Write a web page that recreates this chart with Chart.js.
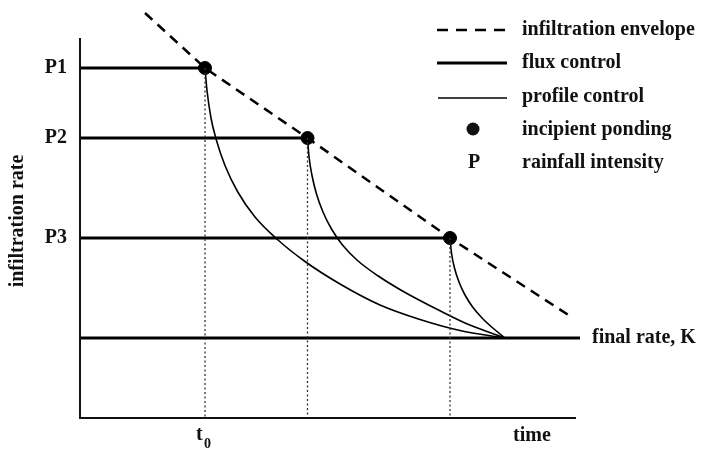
<!DOCTYPE html>
<html>
<head>
<meta charset="utf-8">
<script src="https://cdn.jsdelivr.net/npm/chart.js@4"></script>
<style>
  html, body { margin: 0; padding: 0; background: #fff; }
  canvas { display: block; }
</style>
</head>
<body>
<canvas id="grafico" width="704" height="450"></canvas>
<script>
// rainfall intensities and the time ponding starts for each
const rainLabels = ['P1', 'P2', 'P3'];
const rainRate = [70, 56, 36];
const pondTime = [25, 45.5, 74];
const finalRate = 16;

// infiltration envelope (dashed)
const envelopeT = [13, 25, 45.5, 74, 98.6];
const envelopeF = [81, 70, 56, 36, 20];

// profile-controlled decay after ponding, one curve per intensity
const profile1T = [25, 25.4, 26.2, 27.3, 29, 31.5, 35, 39.6, 45, 52, 60, 68, 76, 85];
const profile1F = [70, 65.5, 60, 55.5, 50.5, 45.3, 40.2, 35.6, 31.3, 26.8, 22.6, 19.7, 17.5, 16];
const profile2T = [45.5, 45.8, 46.4, 47.3, 48.6, 50.3, 52.5, 55.5, 59.5, 64.5, 70.5, 77, 85];
const profile2F = [56, 52.3, 48.5, 44.8, 41.2, 37.8, 34.6, 31.5, 28.5, 25.4, 22.2, 19.0, 16];
const profile3T = [74, 74.3, 74.9, 75.8, 77, 78.6, 80.6, 82.8, 85];
const profile3F = [36, 33, 30, 27.2, 24.6, 22.1, 19.8, 17.8, 16];

// axis extents
const axisTop = 76;
const axisEnd = 99.2;

const serif = "'Liberation Serif', 'Times New Roman', serif";

function pts(xs, ys) {
  return xs.map((x, i) => ({ x: x, y: ys[i] }));
}

const datasets = [];

// axes
datasets.push({
  data: [{ x: 0, y: axisTop }, { x: 0, y: 0 }, { x: axisEnd, y: 0 }],
  borderColor: '#111', borderWidth: 2, pointRadius: 0, borderJoinStyle: 'miter'
});

// dotted drop lines from each ponding point
pondTime.forEach((t, i) => {
  datasets.push({
    data: [{ x: t, y: rainRate[i] }, { x: t, y: 0 }],
    borderColor: '#333', borderWidth: 1.3, borderDash: [2, 2.5], pointRadius: 0
  });
});

// flux control: constant rainfall until ponding
pondTime.forEach((t, i) => {
  datasets.push({
    data: [{ x: 0, y: rainRate[i] }, { x: t, y: rainRate[i] }],
    borderColor: '#000', borderWidth: 3, pointRadius: 0
  });
});

// final rate K
datasets.push({
  data: [{ x: 0, y: finalRate }, { x: 100, y: finalRate }],
  borderColor: '#000', borderWidth: 3, pointRadius: 0
});

// infiltration envelope
datasets.push({
  data: pts(envelopeT, envelopeF),
  borderColor: '#000', borderWidth: 2.5, borderDash: [10, 7], pointRadius: 0
});

// profile control curves
[[profile1T, profile1F], [profile2T, profile2F], [profile3T, profile3F]].forEach(c => {
  datasets.push({
    data: pts(c[0], c[1]),
    borderColor: '#000', borderWidth: 1.6, pointRadius: 0,
    cubicInterpolationMode: 'monotone'
  });
});

// incipient ponding points
datasets.push({
  data: pts(pondTime, rainRate),
  showLine: false, pointRadius: 6.5, pointBackgroundColor: '#000', pointBorderColor: '#000'
});

datasets.forEach(d => { d.clip = false; d.fill = false; });

// labels, legend and axis titles
const textPlugin = {
  id: 'textos',
  afterDatasetsDraw(chart) {
    const c = chart.ctx;
    const y = chart.scales.y;
    c.save();
    c.fillStyle = '#111';
    c.textBaseline = 'middle';

    c.font = 'bold 20px ' + serif;
    c.textAlign = 'right';
    rainLabels.forEach((lab, i) => c.fillText(lab, 67, y.getPixelForValue(rainRate[i])));

    c.textAlign = 'left';
    c.fillText('final rate, K', 592, y.getPixelForValue(finalRate));

    // x axis labels
    c.textBaseline = 'alphabetic';
    c.fillText('t', 196, 440);
    c.font = 'bold 14px ' + serif;
    c.fillText('0', 204, 448);
    c.font = 'bold 20px ' + serif;
    c.fillText('time', 513, 441);

    // y axis title
    c.save();
    c.translate(23, 221);
    c.rotate(-Math.PI / 2);
    c.textAlign = 'center';
    c.font = 'bold 20px ' + serif;
    c.fillText('infiltration rate', 0, 0);
    c.restore();

    // legend
    const lx0 = 437, lx1 = 507, tx = 522;
    c.strokeStyle = '#000';
    c.lineCap = 'butt';
    c.beginPath(); c.setLineDash([11, 8]); c.lineWidth = 2.5;
    c.moveTo(lx0, 30); c.lineTo(lx1, 30); c.stroke();
    c.setLineDash([]);
    c.beginPath(); c.lineWidth = 3; c.moveTo(lx0, 63); c.lineTo(lx1, 63); c.stroke();
    c.beginPath(); c.lineWidth = 1.6; c.moveTo(lx0 + 1, 98); c.lineTo(lx1, 98); c.stroke();
    c.beginPath(); c.arc(473, 129, 6.5, 0, Math.PI * 2); c.fill();

    c.textBaseline = 'middle';
    c.textAlign = 'center';
    c.font = 'bold 20px ' + serif;
    c.fillText('P', 474, 163);
    c.textAlign = 'left';
    c.fillText('infiltration envelope', tx, 30);
    c.fillText('flux control', tx, 63);
    c.fillText('profile control', tx, 97);
    c.fillText('incipient ponding', tx, 130);
    c.fillText('rainfall intensity', tx, 163);
    c.restore();
  }
};

const ctx = document.getElementById('grafico').getContext('2d');
const myChart = new Chart(ctx, {
  type: 'line',
  data: { datasets: datasets },
  options: {
    responsive: false,
    animation: false,
    devicePixelRatio: 1,
    layout: { padding: { left: 80, right: 124, top: 13, bottom: 32 } },
    scales: {
      x: { type: 'linear', min: 0, max: 100, display: false },
      y: { type: 'linear', min: 0, max: 81, display: false }
    },
    plugins: {
      legend: { display: false },
      tooltip: { enabled: false }
    }
  },
  plugins: [textPlugin]
});
</script>
</body>
</html>
